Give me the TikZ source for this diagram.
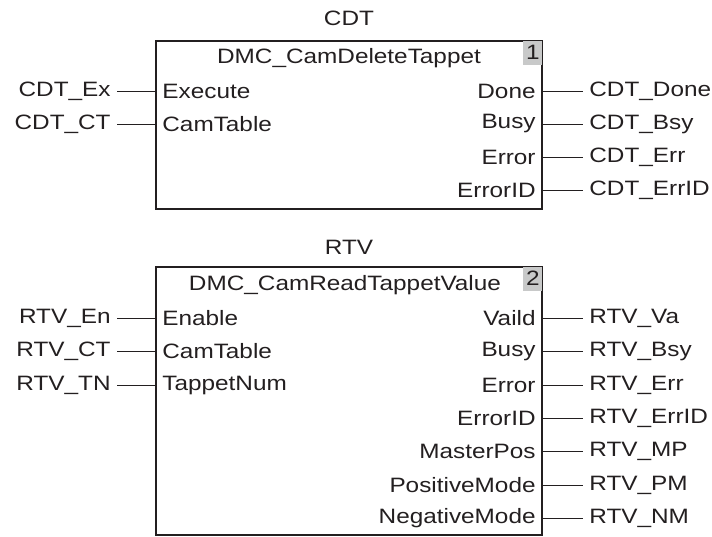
\documentclass[tikz,border=0pt]{standalone}
\usepackage{fontspec}
\setmainfont[FakeStretch=1.17]{Liberation Sans}
\usepackage{tikz}
\usetikzlibrary{positioning}
\definecolor{ink}{RGB}{35,31,32}
\definecolor{numgray}{RGB}{200,201,201}

\begin{document}
\begin{tikzpicture}[
  x=0.5pt, y=-0.5pt,
  every node/.style={font=\fontsize{10.4}{12}\selectfont, text=ink, inner sep=0pt},
  fbox/.style={rectangle, draw=ink, line width=0.8pt, minimum width=193pt},
  fnum/.style={rectangle, fill=numgray, minimum width=9.5pt, minimum height=12pt, anchor=north east},
  pinin/.style={anchor=west, inner sep=3pt},
  pinout/.style={anchor=east, inner sep=3pt},
  varin/.style={anchor=east, inner sep=3pt},
  varout/.style={anchor=west, inner sep=3pt},
  wire/.style={draw=ink, line width=0.5pt}
]
\useasboundingbox (0,0) rectangle (712,536);

% CDT block
\node (cdtname) at (349,18) {CDT};
\node[fbox, minimum height=84pt] (cdt) at (349,125) {};
\node[fnum] (cdtnum) at (cdt.north east) {1};
\node (cdthead) at (349,58) {DMC\_CamDeleteTappet};

\node[pinin] (cdtexe) at (156,91) {Execute};
\node[pinin] (cdtct) at (156,124) {CamTable};
\node[pinout] (cdtdone) at (542,91) {Done};
\node[pinout] (cdtbusy) at (542,124) {Busy};
\node[pinout] (cdterr) at (542,157) {Error};
\node[pinout] (cdterrid) at (542,190) {ErrorID};

\node[varin] (cdtexv) at (117,91) {CDT\_Ex};
\node[varin] (cdtctv) at (117,124) {CDT\_CT};
\node[varout] (cdtdonev) at (583,91) {CDT\_Done};
\node[varout] (cdtbusyv) at (583,124) {CDT\_Bsy};
\node[varout] (cdterrv) at (583,157) {CDT\_Err};
\node[varout] (cdterridv) at (583,190) {CDT\_ErrID};

\draw[wire] (cdtexv) -- (cdtexe);
\draw[wire] (cdtctv) -- (cdtct);
\draw[wire] (cdtdone) -- (cdtdonev);
\draw[wire] (cdtbusy) -- (cdtbusyv);
\draw[wire] (cdterr) -- (cdterrv);
\draw[wire] (cdterrid) -- (cdterridv);

% RTV block
\node (rtvname) at (349,247) {RTV};
\node[fbox, minimum height=134pt] (rtv) at (349,401) {};
\node[fnum] (rtvnum) at (rtv.north east) {2};
\node (rtvhead) at (345,285) {DMC\_CamReadTappetValue};

\node[pinin] (rtven) at (156,318) {Enable};
\node[pinin] (rtvct) at (156,351) {CamTable};
\node[pinin] (rtvtn) at (156,385) {TappetNum};
\node[pinout] (rtvva) at (542,318) {Vaild};
\node[pinout] (rtvbusy) at (542,351) {Busy};
\node[pinout] (rtverr) at (542,385) {Error};
\node[pinout] (rtverrid) at (542,418) {ErrorID};
\node[pinout] (rtvmp) at (542,451) {MasterPos};
\node[pinout] (rtvpm) at (542,485) {PositiveMode};
\node[pinout] (rtvnm) at (542,518) {NegativeMode};

\node[varin] (rtvenv) at (117,318) {RTV\_En};
\node[varin] (rtvctv) at (117,351) {RTV\_CT};
\node[varin] (rtvtnv) at (117,385) {RTV\_TN};
\node[varout] (rtvvav) at (583,318) {RTV\_Va};
\node[varout] (rtvbusyv) at (583,351) {RTV\_Bsy};
\node[varout] (rtverrv) at (583,385) {RTV\_Err};
\node[varout] (rtverridv) at (583,418) {RTV\_ErrID};
\node[varout] (rtvmpv) at (583,451) {RTV\_MP};
\node[varout] (rtvpmv) at (583,485) {RTV\_PM};
\node[varout] (rtvnmv) at (583,518) {RTV\_NM};

\draw[wire] (rtvenv) -- (rtven);
\draw[wire] (rtvctv) -- (rtvct);
\draw[wire] (rtvtnv) -- (rtvtn);
\draw[wire] (rtvva) -- (rtvvav);
\draw[wire] (rtvbusy) -- (rtvbusyv);
\draw[wire] (rtverr) -- (rtverrv);
\draw[wire] (rtverrid) -- (rtverridv);
\draw[wire] (rtvmp) -- (rtvmpv);
\draw[wire] (rtvpm) -- (rtvpmv);
\draw[wire] (rtvnm) -- (rtvnmv);
\end{tikzpicture}
\end{document}
